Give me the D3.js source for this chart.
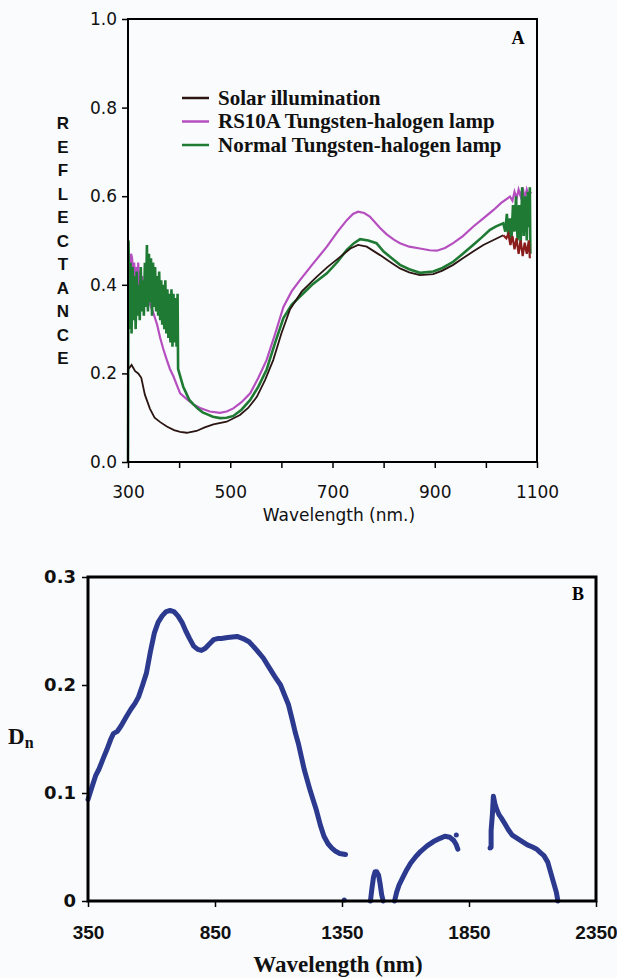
<!DOCTYPE html>
<html><head><meta charset="utf-8">
<script src="https://cdn.jsdelivr.net/npm/d3@7"></script>
<style>html,body{margin:0;padding:0;background:#fafbfd;}svg{display:block;}</style>
</head><body>
<script>
// ---------- Panel A data ----------
const aXTicks = [300,400,500,600,700,800,900,1000,1100];
const aXLabels = [300,500,700,900,1100];
const aYTicks = [0,0.2,0.4,0.6,0.8,1.0];
const legendLabels = ["Solar illumination","RS10A Tungsten-halogen lamp","Normal Tungsten-halogen lamp"];
const legendColors = ["#2a1512","#b54fc0","#1f7a34"];

const solar = [[301,0.21],[307,0.219],[314,0.205],[320,0.2],[326,0.19],[333,0.152],[343,0.12],[352,0.1],[363,0.09],[376,0.08],[390,0.072],[402,0.068],[415,0.066],[434,0.07],[450,0.078],[467,0.085],[493,0.091],[519,0.106],[535,0.122],[552,0.147],[568,0.185],[584,0.23],[600,0.29],[617,0.345],[640,0.385],[669,0.418],[690,0.44],[715,0.463],[735,0.482],[750,0.49],[767,0.486],[793,0.467],[812,0.452],[832,0.437],[850,0.428],[871,0.422],[897,0.424],[915,0.432],[936,0.445],[955,0.46],[975,0.475],[995,0.49],[1015,0.501],[1034,0.512]];
const solarTail = [[1034,0.512],[1040,0.505],[1044,0.515],[1048,0.49],[1052,0.51],[1056,0.48],[1060,0.505],[1064,0.47],[1068,0.5],[1072,0.465],[1076,0.495],[1080,0.47],[1084,0.5],[1086,0.46]];
const rs10a = [[301,0.36],[304,0.44],[306,0.47],[308,0.46],[310,0.42],[312,0.45],[314,0.41],[316,0.44],[318,0.40],[320,0.45],[322,0.39],[324,0.43],[326,0.40],[328,0.42],[330,0.38],[333,0.40],[336,0.37],[340,0.365],[345,0.35],[350,0.335],[357,0.31],[363,0.28],[369,0.255],[376,0.23],[382,0.21],[389,0.193],[395,0.175],[402,0.155],[415,0.142],[428,0.13],[441,0.122],[460,0.114],[480,0.111],[493,0.114],[506,0.121],[522,0.135],[539,0.155],[555,0.19],[571,0.23],[588,0.29],[604,0.35],[620,0.385],[636,0.41],[660,0.445],[689,0.486],[710,0.52],[728,0.546],[740,0.56],[750,0.565],[762,0.562],[773,0.554],[793,0.528],[806,0.514],[820,0.502],[832,0.494],[850,0.486],[871,0.482],[890,0.478],[904,0.477],[920,0.483],[936,0.494],[955,0.51],[975,0.531],[995,0.55],[1015,0.569],[1030,0.585],[1047,0.599],[1052,0.59],[1056,0.61],[1060,0.595],[1064,0.615],[1068,0.6],[1072,0.62],[1076,0.595],[1080,0.615],[1084,0.6],[1088,0.61]];
const normal = [[300,0],[301,0.50],[303,0.30],[305,0.45],[307,0.29],[309,0.44],[311,0.32],[313,0.42],[315,0.30],[317,0.43],[319,0.33],[321,0.40],[323,0.32],[325,0.44],[327,0.34],[329,0.41],[331,0.33],[333,0.45],[335,0.35],[337,0.49],[339,0.34],[341,0.47],[343,0.36],[345,0.46],[347,0.33],[349,0.45],[351,0.35],[353,0.44],[355,0.34],[357,0.42],[359,0.33],[361,0.43],[363,0.32],[365,0.41],[367,0.31],[369,0.40],[371,0.30],[373,0.41],[375,0.29],[377,0.39],[379,0.28],[381,0.38],[383,0.27],[385,0.39],[387,0.26],[389,0.38],[391,0.27],[393,0.37],[395,0.26],[397,0.38],[398,0.21],[403,0.19],[408,0.17],[414,0.155],[420,0.14],[428,0.13],[437,0.12],[446,0.112],[454,0.108],[466,0.102],[480,0.099],[493,0.1],[506,0.104],[522,0.118],[539,0.14],[555,0.17],[571,0.208],[588,0.27],[604,0.325],[620,0.355],[636,0.373],[660,0.4],[689,0.426],[710,0.452],[728,0.479],[742,0.494],[754,0.503],[770,0.5],[786,0.494],[800,0.475],[816,0.46],[832,0.445],[850,0.435],[871,0.427],[897,0.43],[915,0.438],[936,0.452],[955,0.47],[975,0.49],[992,0.507],[1008,0.524],[1020,0.532],[1034,0.539],[1038,0.52],[1041,0.56],[1044,0.51],[1047,0.55],[1050,0.5],[1053,0.58],[1056,0.52],[1059,0.6],[1062,0.5],[1065,0.58],[1068,0.49],[1071,0.62],[1074,0.51],[1077,0.6],[1080,0.5],[1082,0.61],[1084,0.53],[1086,0.62],[1087,0.47]];

// ---------- Panel B data ----------
const bXTicks = [350,850,1350,1850,2350];
const bYTicks = [0,0.1,0.2,0.3];
const bSeg1 = [[350,0.094],[365,0.105],[380,0.116],[393,0.122],[410,0.132],[424,0.14],[440,0.15],[450,0.155],[465,0.157],[480,0.162],[502,0.171],[520,0.178],[535,0.183],[549,0.189],[565,0.2],[580,0.211],[595,0.23],[611,0.248],[626,0.258],[642,0.264],[658,0.268],[673,0.269],[688,0.268],[704,0.264],[720,0.258],[735,0.25],[750,0.243],[766,0.236],[782,0.233],[797,0.232],[812,0.234],[828,0.238],[845,0.242],[860,0.243],[875,0.243],[900,0.244],[937,0.245],[960,0.243],[984,0.24],[1000,0.236],[1015,0.232],[1040,0.225],[1061,0.217],[1085,0.208],[1108,0.2],[1125,0.19],[1139,0.182],[1154,0.168],[1166,0.156],[1178,0.146],[1201,0.122],[1225,0.102],[1248,0.085],[1265,0.07],[1279,0.06],[1295,0.053],[1310,0.049],[1325,0.046],[1341,0.044],[1364,0.043]];
const bSeg2 = [[1462,0],[1468,0.012],[1474,0.022],[1480,0.027],[1487,0.027],[1494,0.024],[1500,0.016],[1506,0.006],[1512,0]];
const bSeg3 = [[1557,0],[1565,0.008],[1575,0.015],[1590,0.022],[1605,0.029],[1620,0.035],[1640,0.041],[1660,0.046],[1685,0.051],[1710,0.055],[1736,0.058],[1755,0.06],[1775,0.059],[1790,0.056],[1800,0.052],[1806,0.048]];
const bSeg4 = [[1937,0.05],[1937,0.065],[1942,0.08],[1946,0.097],[1952,0.09],[1959,0.085],[1968,0.08],[1977,0.077],[1990,0.072],[2005,0.066],[2020,0.061],[2040,0.058],[2060,0.055],[2080,0.052],[2100,0.05],[2117,0.048],[2130,0.045],[2145,0.042],[2160,0.036],[2172,0.026],[2183,0.017],[2194,0.008],[2200,0]];
const bDots = [[1359,0.001],[1800,0.061],[1933,0.049]];

const W = 617, H = 978;
const svg = d3.select("body").append("svg").attr("width",W).attr("height",H);
svg.append("rect").attr("width",W).attr("height",H).attr("fill","#fafbfd");

// ===== Panel A =====
const A = {l:128, r:537, t:19, b:462};
const xA = d3.scaleLinear().domain([300,1100]).range([A.l,A.r]);
const yA = d3.scaleLinear().domain([0,1]).range([A.b,A.t]);
const gA = svg.append("g");
const lineA = d3.line().x(d=>xA(d[0])).y(d=>yA(d[1]));
gA.append("path").datum(rs10a).attr("d",lineA).attr("fill","none").attr("stroke",legendColors[1]).attr("stroke-width",2.2);
gA.append("path").datum(normal).attr("d",lineA).attr("fill","none").attr("stroke",legendColors[2]).attr("stroke-width",2.6);
gA.append("path").datum(solar).attr("d",lineA).attr("fill","none").attr("stroke",legendColors[0]).attr("stroke-width",1.8);
gA.append("path").datum(solarTail).attr("d",lineA).attr("fill","none").attr("stroke","#8a1c1c").attr("stroke-width",2.2);

// frame
gA.append("rect").attr("x",A.l).attr("y",A.t).attr("width",A.r-A.l).attr("height",A.b-A.t)
  .attr("fill","none").attr("stroke","#000").attr("stroke-width",2);

const axAx = gA.append("g").attr("transform",`translate(0,${A.b})`)
  .call(d3.axisBottom(xA).tickValues(aXTicks).tickSize(6).tickFormat(d=>aXLabels.includes(d)?d:""));
axAx.select(".domain").remove();
axAx.selectAll("line").attr("stroke","#000").attr("stroke-width",1.5);
axAx.selectAll("text").attr("font-family","DejaVu Sans").attr("font-size",17).attr("fill","#111").attr("dy","1.6em");

const ayAx = gA.append("g").attr("transform",`translate(${A.l},0)`)
  .call(d3.axisLeft(yA).tickValues(aYTicks).tickSize(6).tickFormat(d3.format(".1f")));
ayAx.select(".domain").remove();
ayAx.selectAll("line").attr("stroke","#000").attr("stroke-width",1.5);
ayAx.selectAll("text").attr("font-family","DejaVu Sans").attr("font-size",17).attr("fill","#111").attr("x",-11);

gA.append("text").attr("x",339).attr("y",521).attr("text-anchor","middle")
  .attr("font-family","DejaVu Sans").attr("font-size",17).attr("fill","#111").text("Wavelength (nm.)");

const yLetters = "REFLECTANCE".split("");
gA.append("g").selectAll("text").data(yLetters).join("text")
  .attr("x",63).attr("y",(d,i)=>129+i*23.5).attr("text-anchor","middle")
  .attr("font-family","Liberation Sans").attr("font-weight","bold").attr("font-size",17).attr("fill","#111").text(d=>d);

gA.append("text").attr("x",518).attr("y",44).attr("text-anchor","middle")
  .attr("font-family","Liberation Serif").attr("font-weight","bold").attr("font-size",18).text("A");

const leg = gA.append("g");
legendLabels.forEach((lab,i)=>{
  const yy = 98 + i*23.5;
  leg.append("line").attr("x1",182).attr("x2",209).attr("y1",yy).attr("y2",yy).attr("stroke",legendColors[i]).attr("stroke-width",2.5);
  leg.append("text").attr("x",218).attr("y",yy+6.5).attr("font-family","Liberation Serif").attr("font-weight","bold")
    .attr("font-size",21).attr("fill","#111").text(lab);
});

// ===== Panel B =====
const B = {l:88, r:596, t:577, b:901};
const xB = d3.scaleLinear().domain([350,2350]).range([B.l,B.r]);
const yB = d3.scaleLinear().domain([0,0.3]).range([B.b,B.t]);
const gB = svg.append("g");
const lineB = d3.line().x(d=>xB(d[0])).y(d=>yB(d[1]));
const blue = "#2b3a8f";
[bSeg1,bSeg2,bSeg3,bSeg4].forEach(s=>{
  gB.append("path").datum(s).attr("d",lineB).attr("fill","none").attr("stroke",blue)
    .attr("stroke-width",5).attr("stroke-linejoin","round").attr("stroke-linecap","round");
});
gB.selectAll("circle.dot").data(bDots).join("circle").attr("class","dot")
  .attr("cx",d=>xB(d[0])).attr("cy",d=>yB(d[1])).attr("r",2.5).attr("fill",blue);

gB.append("rect").attr("x",B.l).attr("y",B.t).attr("width",B.r-B.l).attr("height",B.b-B.t)
  .attr("fill","none").attr("stroke","#000").attr("stroke-width",3);

const bxAx = gB.append("g").attr("transform",`translate(0,${B.b})`)
  .call(d3.axisBottom(xB).tickValues(bXTicks).tickSize(6).tickFormat(d=>d));
bxAx.select(".domain").remove();
bxAx.selectAll("line").attr("stroke","#000").attr("stroke-width",1.5);
bxAx.selectAll("text").attr("font-family","Liberation Sans").attr("font-weight","bold").attr("font-size",19).attr("fill","#111").attr("dy","1.5em");

const byAx = gB.append("g").attr("transform",`translate(${B.l},0)`)
  .call(d3.axisLeft(yB).tickValues(bYTicks).tickSize(6).tickFormat(d=>d===0?"0":d3.format(".1f")(d)));
byAx.select(".domain").remove();
byAx.selectAll("line").attr("stroke","#000").attr("stroke-width",1.5);
byAx.selectAll("text").attr("font-family","DejaVu Sans").attr("font-weight","bold").attr("font-size",18).attr("fill","#111").attr("x",-12);

gB.append("text").attr("x",338).attr("y",972).attr("text-anchor","middle")
  .attr("font-family","Liberation Serif").attr("font-weight","bold").attr("font-size",23).attr("fill","#111").text("Wavelength (nm)");

gB.append("text").attr("x",578).attr("y",600).attr("text-anchor","middle")
  .attr("font-family","Liberation Serif").attr("font-weight","bold").attr("font-size",18).text("B");

const dn = gB.append("text").attr("x",8).attr("y",744)
  .attr("font-family","Liberation Serif").attr("font-weight","bold").attr("font-size",23).attr("fill","#111");
dn.append("tspan").text("D");
dn.append("tspan").attr("font-size",16).attr("dy",4).text("n");
</script>
</body></html>
